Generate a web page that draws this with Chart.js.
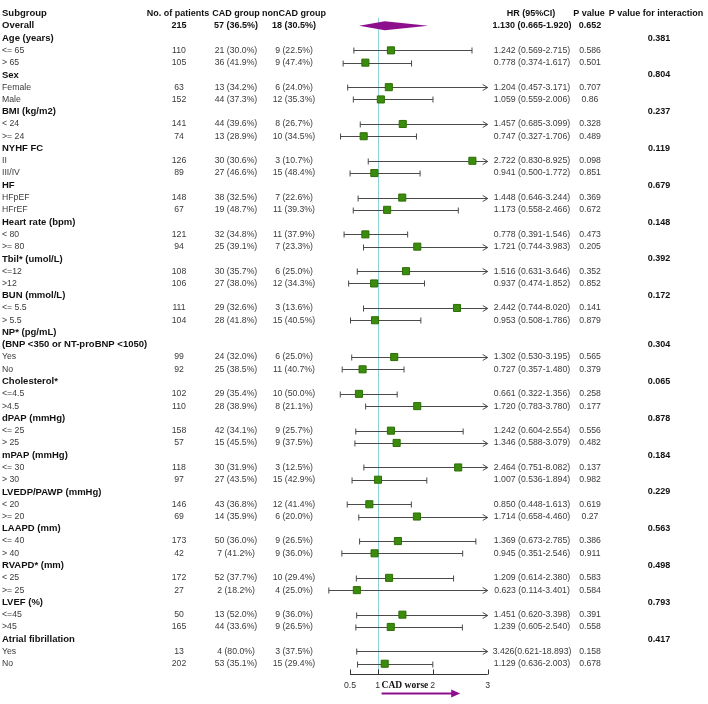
<!DOCTYPE html>
<html>
<head>
<meta charset="utf-8">
<title>Subgroup forest plot</title>
<script src="https://cdn.jsdelivr.net/npm/chart.js@4.4.1/dist/chart.umd.min.js"></script>
<style>
  html, body { margin: 0; padding: 0; background: #fff; overflow: hidden; }
  canvas { display: block; }
</style>
</head>
<body>
<canvas id="forestChart" width="708" height="704"></canvas>
<script>
'use strict';

//********************* Data *************************/

let headers = ['Subgroup', 'No. of patients', 'CAD group', 'nonCAD group', 'HR (95%CI)', 'P value', 'P value for interaction'];

let subgroups = ['Overall', 'Age (years)', '<= 65', '> 65', 'Sex', 'Female', 'Male', 'BMI (kg/m2)', '< 24', '>= 24',
  'NYHF FC', 'II', 'III/IV', 'HF', 'HFpEF', 'HFrEF', 'Heart rate (bpm)', '< 80', '>= 80', 'Tbil* (umol/L)', '<=12', '>12',
  'BUN (mmol/L)', '<= 5.5', '> 5.5', 'NP* (pg/mL)', '(BNP <350 or NT-proBNP <1050)', 'Yes', 'No', 'Cholesterol*', '<=4.5', '>4.5',
  'dPAP (mmHg)', '<= 25', '> 25', 'mPAP (mmHg)', '<= 30', '> 30', 'LVEDP/PAWP (mmHg)', '< 20', '>= 20', 'LAAPD (mm)', '<= 40', '> 40',
  'RVAPD* (mm)', '< 25', '>= 25', 'LVEF (%)', '<=45', '>45', 'Atrial fibrillation', 'Yes', 'No'];

// 1 = bold heading row
let boldRows = [1, 1, 0, 0, 1, 0, 0, 1, 0, 0, 1, 0, 0, 1, 0, 0, 1, 0, 0, 1, 0, 0, 1, 0, 0, 1, 1, 0, 0, 1, 0, 0,
  1, 0, 0, 1, 0, 0, 1, 0, 0, 1, 0, 0, 1, 0, 0, 1, 0, 0, 1, 0, 0];

let patients = ['215', '', '110', '105', '', '63', '152', '', '141', '74', '', '126', '89', '', '148', '67', '', '121', '94', '',
  '108', '106', '', '111', '104', '', '', '99', '92', '', '102', '110', '', '158', '57', '', '118', '97', '', '146', '69', '',
  '173', '42', '', '172', '27', '', '50', '165', '', '13', '202'];

let cadGroup = ['57 (36.5%)', '', '21 (30.0%)', '36 (41.9%)', '', '13 (34.2%)', '44 (37.3%)', '', '44 (39.6%)', '13 (28.9%)', '',
  '30 (30.6%)', '27 (46.6%)', '', '38 (32.5%)', '19 (48.7%)', '', '32 (34.8%)', '25 (39.1%)', '', '30 (35.7%)', '27 (38.0%)', '',
  '29 (32.6%)', '28 (41.8%)', '', '', '24 (32.0%)', '25 (38.5%)', '', '29 (35.4%)', '28 (38.9%)', '', '42 (34.1%)', '15 (45.5%)', '',
  '30 (31.9%)', '27 (43.5%)', '', '43 (36.8%)', '14 (35.9%)', '', '50 (36.0%)', '7 (41.2%)', '', '52 (37.7%)', '2 (18.2%)', '',
  '13 (52.0%)', '44 (33.6%)', '', '4 (80.0%)', '53 (35.1%)'];

let nonCadGroup = ['18 (30.5%)', '', '9 (22.5%)', '9 (47.4%)', '', '6 (24.0%)', '12 (35.3%)', '', '8 (26.7%)', '10 (34.5%)', '',
  '3 (10.7%)', '15 (48.4%)', '', '7 (22.6%)', '11 (39.3%)', '', '11 (37.9%)', '7 (23.3%)', '', '6 (25.0%)', '12 (34.3%)', '',
  '3 (13.6%)', '15 (40.5%)', '', '', '6 (25.0%)', '11 (40.7%)', '', '10 (50.0%)', '8 (21.1%)', '', '9 (25.7%)', '9 (37.5%)', '',
  '3 (12.5%)', '15 (42.9%)', '', '12 (41.4%)', '6 (20.0%)', '', '9 (26.5%)', '9 (36.0%)', '', '10 (29.4%)', '4 (25.0%)', '',
  '9 (36.0%)', '9 (26.5%)', '', '3 (37.5%)', '15 (29.4%)'];

let hrValues = [1.130, null, 1.242, 0.778, null, 1.204, 1.059, null, 1.457, 0.747, null, 2.722, 0.941, null, 1.448, 1.173, null,
  0.778, 1.721, null, 1.516, 0.937, null, 2.442, 0.953, null, null, 1.302, 0.727, null, 0.661, 1.720, null, 1.242, 1.346, null,
  2.464, 1.007, null, 0.850, 1.714, null, 1.369, 0.945, null, 1.209, 0.623, null, 1.451, 1.239, null, 3.426, 1.129];

let ciLower = [0.665, null, 0.569, 0.374, null, 0.457, 0.559, null, 0.685, 0.327, null, 0.830, 0.500, null, 0.646, 0.558, null,
  0.391, 0.744, null, 0.631, 0.474, null, 0.744, 0.508, null, null, 0.530, 0.357, null, 0.322, 0.783, null, 0.604, 0.588, null,
  0.751, 0.536, null, 0.448, 0.658, null, 0.673, 0.351, null, 0.614, 0.114, null, 0.620, 0.605, null, 0.621, 0.636];

let ciUpper = [1.920, null, 2.715, 1.617, null, 3.171, 2.006, null, 3.099, 1.706, null, 8.925, 1.772, null, 3.244, 2.466, null,
  1.546, 3.983, null, 3.646, 1.852, null, 8.020, 1.786, null, null, 3.195, 1.480, null, 1.356, 3.780, null, 2.554, 3.079, null,
  8.082, 1.894, null, 1.613, 4.460, null, 2.785, 2.546, null, 2.380, 3.401, null, 3.398, 2.540, null, 18.893, 2.003];

let hrText = ['1.130 (0.665-1.920)', '', '1.242 (0.569-2.715)', '0.778 (0.374-1.617)', '', '1.204 (0.457-3.171)', '1.059 (0.559-2.006)', '',
  '1.457 (0.685-3.099)', '0.747 (0.327-1.706)', '', '2.722 (0.830-8.925)', '0.941 (0.500-1.772)', '', '1.448 (0.646-3.244)',
  '1.173 (0.558-2.466)', '', '0.778 (0.391-1.546)', '1.721 (0.744-3.983)', '', '1.516 (0.631-3.646)', '0.937 (0.474-1.852)', '',
  '2.442 (0.744-8.020)', '0.953 (0.508-1.786)', '', '', '1.302 (0.530-3.195)', '0.727 (0.357-1.480)', '', '0.661 (0.322-1.356)',
  '1.720 (0.783-3.780)', '', '1.242 (0.604-2.554)', '1.346 (0.588-3.079)', '', '2.464 (0.751-8.082)', '1.007 (0.536-1.894)', '',
  '0.850 (0.448-1.613)', '1.714 (0.658-4.460)', '', '1.369 (0.673-2.785)', '0.945 (0.351-2.546)', '', '1.209 (0.614-2.380)',
  '0.623 (0.114-3.401)', '', '1.451 (0.620-3.398)', '1.239 (0.605-2.540)', '', '3.426(0.621-18.893)', '1.129 (0.636-2.003)'];

let pValues = ['0.652', '', '0.586', '0.501', '', '0.707', '0.86', '', '0.328', '0.489', '', '0.098', '0.851', '', '0.369', '0.672', '',
  '0.473', '0.205', '', '0.352', '0.852', '', '0.141', '0.879', '', '', '0.565', '0.379', '', '0.258', '0.177', '', '0.556', '0.482', '',
  '0.137', '0.982', '', '0.619', '0.27', '', '0.386', '0.911', '', '0.583', '0.584', '', '0.391', '0.558', '', '0.158', '0.678'];

let pInteraction = ['', '0.381', '', '', '0.804', '', '', '0.237', '', '', '0.119', '', '', '0.679', '', '', '0.148', '', '', '0.392', '', '',
  '0.172', '', '', '', '0.304', '', '', '0.065', '', '', '0.878', '', '', '0.184', '', '', '0.229', '', '', '0.563', '', '', '0.498', '', '',
  '0.793', '', '', '0.417', '', ''];

let axisTicks = [0.5, 1, 2, 3];
let axisTickLabels = ['0.5', '1', '2', '3'];
let axisMin = 0.5;
let axisMax = 3;

//********************** Styles *********************/

let sansFont = '"Liberation Sans", Arial, sans-serif';
let boldFont = 'bold 9px ' + sansFont;
let labelBoldFont = 'bold 9.5px ' + sansFont;
let plainFont = '8.7px ' + sansFont;
let boxColor = '#3b8c0c';
let boxBorder = '#2d6e06';
let lineColor = '#4a4a4a';
let diamondColor = '#8e0f8e';
let refColor = '#8fd3da';

//********************** Helpers *********************/

// data rows start at 2 (row 1 = column headers)
function rowOf(i) {
  return i + 2;
}

let boxPoints = [];
for (let i = 1; i < hrValues.length; i++) {
  if (hrValues[i] !== null && hrValues[i] <= axisMax) {
    boxPoints.push({ x: hrValues[i], y: rowOf(i) });
  }
}

function drawText(ctx, text, x, y, align, font, color) {
  ctx.font = font;
  ctx.fillStyle = color;
  ctx.textAlign = align;
  ctx.textBaseline = 'middle';
  ctx.fillText(text, x, y);
}

//********************** Plugins *********************/

let ciPlugin = {
  id: 'ciLines',
  beforeDatasetsDraw(chart) {
    let ctx = chart.ctx;
    let xs = chart.scales.x;
    let ys = chart.scales.y;
    ctx.save();

    // reference line at HR = 1
    let refX = Math.round(xs.getPixelForValue(1)) + 0.5;
    ctx.strokeStyle = refColor;
    ctx.lineWidth = 1;
    ctx.beginPath();
    ctx.moveTo(refX, ys.getPixelForValue(1.35));
    ctx.lineTo(refX, ys.getPixelForValue(54.85));
    ctx.stroke();

    ctx.strokeStyle = lineColor;
    ctx.lineWidth = 1;
    for (let i = 1; i < hrValues.length; i++) {
      if (hrValues[i] === null) continue;
      let y = Math.round(ys.getPixelForValue(rowOf(i))) + 0.5;
      let x1 = xs.getPixelForValue(ciLower[i]);
      let clipped = ciUpper[i] > axisMax;
      let x2 = xs.getPixelForValue(clipped ? axisMax : ciUpper[i]);
      ctx.beginPath();
      ctx.moveTo(x1, y);
      ctx.lineTo(x2, y);
      ctx.moveTo(x1, y - 3);
      ctx.lineTo(x1, y + 3);
      if (clipped) {
        ctx.moveTo(x2 - 5, y - 3);
        ctx.lineTo(x2, y);
        ctx.lineTo(x2 - 5, y + 3);
      } else {
        ctx.moveTo(x2, y - 3);
        ctx.lineTo(x2, y + 3);
      }
      ctx.stroke();
    }

    // overall diamond
    let yo = ys.getPixelForValue(rowOf(0));
    ctx.fillStyle = diamondColor;
    ctx.beginPath();
    ctx.moveTo(xs.getPixelForValue(ciLower[0]), yo);
    ctx.lineTo(xs.getPixelForValue(hrValues[0]), yo - 4.5);
    ctx.lineTo(xs.getPixelForValue(ciUpper[0]), yo);
    ctx.lineTo(xs.getPixelForValue(hrValues[0]), yo + 4.5);
    ctx.closePath();
    ctx.fill();
    ctx.restore();
  }
};

let tablePlugin = {
  id: 'tableText',
  afterDraw(chart) {
    let ctx = chart.ctx;
    let xs = chart.scales.x;
    let ys = chart.scales.y;
    ctx.save();

    let hy = ys.getPixelForValue(1);
    drawText(ctx, headers[0], 2, hy, 'left', labelBoldFont, '#111');
    drawText(ctx, headers[1], 178, hy, 'center', boldFont, '#111');
    drawText(ctx, headers[2], 236, hy, 'center', boldFont, '#111');
    drawText(ctx, headers[3], 294, hy, 'center', boldFont, '#111');
    drawText(ctx, headers[4], 531, hy, 'center', boldFont, '#111');
    drawText(ctx, headers[5], 589, hy, 'center', boldFont, '#111');
    drawText(ctx, headers[6], 656, hy, 'center', boldFont, '#111');

    for (let i = 0; i < subgroups.length; i++) {
      let y = ys.getPixelForValue(rowOf(i));
      let isBold = boldRows[i] === 1;
      let font = isBold ? boldFont : plainFont;
      let color = isBold ? '#111' : '#3a3a3a';
      drawText(ctx, subgroups[i], 2, y, 'left', isBold ? labelBoldFont : plainFont, color);
      drawText(ctx, patients[i], 179, y, 'center', font, color);
      drawText(ctx, cadGroup[i], 236, y, 'center', font, color);
      drawText(ctx, nonCadGroup[i], 294, y, 'center', font, color);
      drawText(ctx, hrText[i], 532, y, 'center', font, color);
      drawText(ctx, pValues[i], 590, y, 'center', font, color);
      drawText(ctx, pInteraction[i], 659, y, 'center', boldFont, '#111');
    }

    // x axis (only 0.5 - 3)
    let ay = Math.round(ys.getPixelForValue(54.85)) + 0.5;
    ctx.strokeStyle = '#333';
    ctx.lineWidth = 1;
    ctx.beginPath();
    ctx.moveTo(xs.getPixelForValue(axisMin), ay);
    ctx.lineTo(xs.getPixelForValue(axisMax), ay);
    for (let t = 0; t < axisTicks.length; t++) {
      let tx = Math.round(xs.getPixelForValue(axisTicks[t])) + 0.5;
      ctx.moveTo(tx, ay);
      ctx.lineTo(tx, ay - 5);
    }
    ctx.stroke();
    for (let t = 0; t < axisTicks.length; t++) {
      drawText(ctx, axisTickLabels[t], xs.getPixelForValue(axisTicks[t]), ay + 11, 'center', plainFont, '#333');
    }

    // favour label + arrow
    let x1 = xs.getPixelForValue(1);
    drawText(ctx, 'CAD worse', x1 + 4, ay + 11, 'left', 'bold 9.5px "Liberation Serif", "Times New Roman", serif', '#111');
    let arrowY = ay + 19;
    let arrowEnd = xs.getPixelForValue(2.5);
    ctx.strokeStyle = diamondColor;
    ctx.fillStyle = diamondColor;
    ctx.lineWidth = 2;
    ctx.beginPath();
    ctx.moveTo(x1 + 4, arrowY);
    ctx.lineTo(arrowEnd - 7, arrowY);
    ctx.stroke();
    ctx.beginPath();
    ctx.moveTo(arrowEnd - 9, arrowY - 4);
    ctx.lineTo(arrowEnd, arrowY);
    ctx.lineTo(arrowEnd - 9, arrowY + 4);
    ctx.closePath();
    ctx.fill();
    ctx.restore();
  }
};

//********************** Chart *********************/

// scale ranges chosen so the whole canvas is the plot area:
// HR 1 sits at x = 378 px (56 px per unit), row 1 at y = 7.7 px (12.48 px per row)
let xMin = 1 - 378 / 56;
let xMax = 1 + (708 - 378) / 56;
let yMin = 1 - 7.7 / 12.48;
let yMax = 1 + (704 - 7.7) / 12.48;

let ctx = document.getElementById('forestChart').getContext('2d');

new Chart(ctx, {
  type: 'scatter',
  data: {
    datasets: [{
      label: 'HR',
      data: boxPoints,
      pointStyle: 'rect',
      pointRadius: 5,
      pointHoverRadius: 5,
      backgroundColor: boxColor,
      borderColor: boxBorder,
      borderWidth: 1
    }]
  },
  options: {
    responsive: false,
    animation: false,
    devicePixelRatio: 1,
    layout: { padding: 0 },
    plugins: {
      legend: { display: false },
      tooltip: { enabled: false }
    },
    scales: {
      x: { type: 'linear', display: false, min: xMin, max: xMax },
      y: { type: 'linear', display: false, reverse: true, min: yMin, max: yMax }
    }
  },
  plugins: [ciPlugin, tablePlugin]
});
</script>
</body>
</html>
